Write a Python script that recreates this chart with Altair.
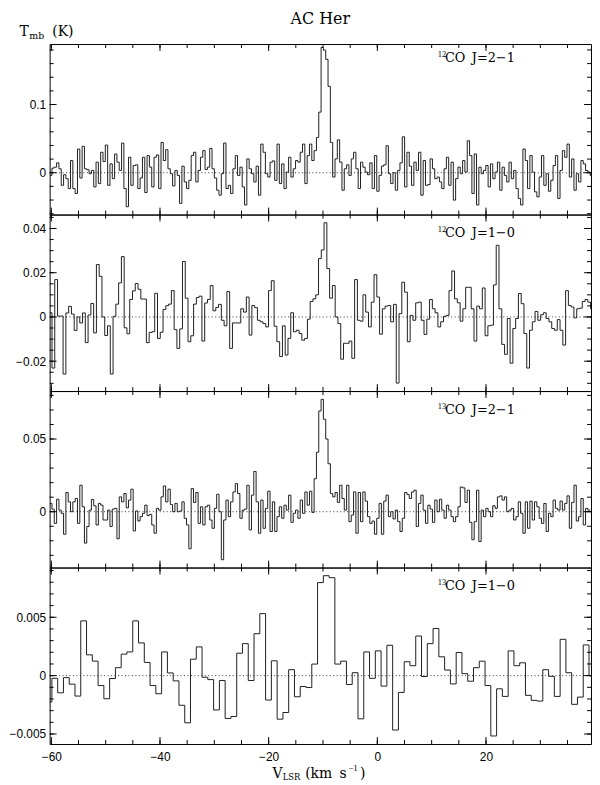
import altair as alt
import pandas as pd

# ---------------- data (antenna temperatures in mK) ----------------
# 12CO J=2-1 : channel width 0.427 km/s, first channel starts at -60.31 km/s
co12_21_a = [-3.9, 6.8, 8.2, 14.5, 5.8, -18.4, -2.9, -8.7, -23.2, 17.9, -23.2, -30.4, 34.8, -7.7, 38.6, 5.8,
             4.3, -1.4, 3.4, -20.8, 15.5, -15.9, 30.0, 16.4, 40.6, -18.4, 13.0, -8.7, 27.5, 15.5, 3.4, 43.5,
             -23.2, -49.8, 22.7, -18.4, 10.6, 11.6, -23.2, -7.7, 22.7, -29.0, 25.1, 8.2, -20.8, 22.7, 26.1,
             -23.2, 44.4, 17.9, 33.8, 5.8, -1.4, -19.3, 3.4, -3.9, -44.9, 9.7, -13.5, -23.2, -11.1, 25.1, 30.0,
             -13.5, 3.4, 22.7, 32.4, 4.8, 8.2, 35.7, 5.8, -7.7, -25.6, -32.9, -1.4, 43.5, -23.2]
co12_21_b = [-18.4, -30.4, 5.8, 25.1, -3.9, 8.2, -20.8, -47.3, 20.3, 5.8, -1.4, -13.5, 9.7, -32.9, 42.0, 30.0,
             -1.4, -6.3, 15.5, 17.4, -11.1, 42.0, -15.9, 13.0, -23.2, 1.0, 22.7, -6.3, 5.8, 17.9, 15.5, 30.0,
             42.0, -15.9, 25.1, 42.0, 17.9, 32.4, 51.7, 88.9, 183.6, 179.7, 166.2, 126.6, 44.4, -6.3, 20.3,
             48.3, 15.5, -25.6, 5.8, 11.6, -3.9, 20.3, 30.0, 5.8, -23.2, 15.5, 8.2, 1.0, -2.9, 14.5, -23.2,
             25.1, -27.1, -3.9, 9.7, 11.6, 39.6, -1.4, -15.9, 0.0, -25.6, 3.4, 14.5, 52.7, -20.8, 30.0, 9.7]
co12_21_c = [-18.4, 15.5, 3.4, 30.0, -32.9, 17.9, -18.4, -17.4, 20.3, 5.8, -8.7, -6.3, -13.5, -23.2, 5.8, 22.7,
             -18.4, 15.5, -40.1, -8.7, 8.2, -1.4, 17.9, 1.0, 46.9, 25.1, -30.4, 27.5, -47.3, 8.2, -1.4, 3.4,
             10.6, -20.8, 13.0, -8.7, 1.0, 15.5, -25.6, 8.2, -3.9, -13.5, 15.5, -8.7, 3.4, -23.2, -37.7, -47.3,
             34.8, 17.9, -23.2, 25.1, 1.0, -28.0, -35.3, -6.3, 25.1, -18.4, -1.4, -27.1, -11.1, 10.6, 25.1,
             -37.7, 3.4, 32.4, 22.7, 42.0, -6.3, 20.3, -25.6, -1.4, -13.5, 17.9, 13.0, 3.4, 1.0, -3.9, -19.3]

# 12CO J=1-0 : channel width 0.511 km/s, first channel starts at -60.39 km/s
co12_10_a = [1.9, -23.1, 16.9, 0.4, 0.4, -25.8, 1.8, 4.8, 1.3, -6.1, 0.0, -2.7, 1.8, -11.6, 0.9, 6.1, -7.2,
             23.7, 18.4, 0.0, -8.4, -4.0, -25.8, 0.3, 5.8, 15.4, 27.3, -4.9, -7.6, 7.9, 11.8, 15.1, 12.5, 8.1,
             8.1, -11.6, -7.0, -6.7, 10.7, -9.7, -6.9, 3.4, 5.1, 5.8, 11.9, -5.7, -14.2, -5.4, 25.1, 8.5,
             -11.2, -8.5, 5.8, 8.8, 9.4, -10.9, 6.3, 7.9, 14.2, 2.8, 4.3, 5.7, -1.5, -4.0, 11.5, -14.2, -2.7,
             -2.7, -2.7, 3.7, 2.2, 9.0, -8.2, 5.2, 4.2, -1.5, -2.2, -3.0, -4.5, 11.9, 16.4, -4.2, -11.2,
             -17.9, -4.0, -17.2, -9.7, 1.9, -6.7, -6.0, -7.5, -10.5, -9.7, -1.0, 7.0]
co12_10_b = [8.2, 10.0, 26.4, 30.3, 42.6, 21.9, 8.5, 14.2, 0.0, -3.0, -19.1, -11.9, -11.9, -10.9, -18.7, 16.9,
             -1.5, -1.9, 10.0, 2.2, -4.5, 6.7, 19.1, 9.0, -7.8, 3.7, 4.9, 5.2, -2.2, 5.7, -29.9, 1.5, 15.7,
             11.2, -11.2, 0.7, -1.5, 6.4, 6.7, -1.5, -7.9, -1.0, 7.9, 3.7, 1.9, -4.5, -2.2, 0.3, 0.7, 11.9,
             20.8, 8.2, 6.4, -1.9, 3.7, 13.4, 13.4, 3.7, -10.9, 4.9, 3.7, 13.1, -8.5, -4.0, -3.7, 14.5, 32.4,
             3.7, -12.4, -16.9, -0.7, -20.9, -5.2, -0.7, 10.6, 6.0, -7.5, -23.1, -6.0, -2.2, 2.5, -1.5, 1.0,
             1.9, -0.7, -2.2, -5.2, -6.0, -1.2, -6.0, -12.7, 11.9, 5.2, 4.5, -0.4, 3.7, 4.0, 7.0, 7.9, 6.7,
             3.7, 1.9, -8.2]

# 13CO J=2-1 : channel width 0.427 km/s, first channel starts at -60.31 km/s
co13_21_a = [5.7, 1.8, -8.0, 8.6, 1.1, -1.1, -15.5, 13.2, 6.8, 0.0, 6.8, 9.1, -8.0, 18.2, 3.4, -21.6, -10.2,
             1.1, 8.4, 4.1, -9.1, 5.7, 4.5, -5.7, -5.7, 1.1, -10.2, 1.8, 2.3, -18.6, 10.2, 6.8, 12.5, 2.7,
             8.0, 15.5, -13.2, 0.5, -6.4, -3.4, -1.1, 4.5, -2.7, -1.8, -9.1, -14.8, 2.3, 1.1, 10.2, 17.7, 6.8,
             15.5, 5.0, 0.0, 5.7, 0.0, 0.5, 6.8, -4.5, -9.1, -25.5, 15.9, 6.4, 13.2, -8.0, 3.4, -9.1, 3.4,
             4.5, -5.7, -11.4, 2.3, 12.0, 0.0, -33.0, -5.7, 8.0]
co13_21_b = [-3.4, 6.8, 13.6, 19.3, 12.5, -4.5, 1.1, 1.8, 18.2, -12.5, 11.4, 27.7, 6.8, -14.8, 8.0, -11.4, 2.3,
             14.1, -13.6, 6.8, -13.6, -3.4, 3.4, -4.5, 4.5, 1.1, 11.4, -7.3, -1.1, 1.1, -4.5, 8.0, -1.1, 13.6,
             4.5, 14.1, -0.5, 22.7, 40.9, 69.3, 77.3, 63.6, 50.0, 33.0, 12.5, 10.2, 13.2, 6.4, 18.2, 9.1, 1.1,
             18.2, -6.8, -2.3, 13.6, -14.8, 13.2, -6.8, 13.6, 7.3, -3.4, -8.0, -6.4, -15.5, -4.5, 5.7, -15.5,
             7.3, 11.4, -3.4, 0.0, -5.0, 1.1, -6.8, -13.6, -4.5, 13.2, 11.8]
co13_21_c = [9.1, 13.6, 14.8, -10.2, 5.7, 11.4, 1.1, -8.0, 4.5, 1.8, -7.3, 8.0, 0.0, 8.6, 1.1, -4.5, 4.5, 1.1,
             -3.4, -6.8, -3.4, 3.4, 17.0, 16.4, 6.4, 14.8, -7.3, -19.3, -6.8, 14.8, -20.5, 1.1, -3.4, 2.3, 0.0,
             -3.4, 4.1, 2.3, 10.2, 10.9, 8.0, 10.2, 0.0, 1.1, 2.3, -5.7, -3.4, 6.8, -1.1, -14.8, 6.8, -11.4,
             7.3, -5.7, 6.8, 3.4, -4.5, -8.0, 5.7, -13.6, -1.1, -3.4, 8.0, 2.3, 1.1, 7.3, 1.1, 5.7, 10.9,
             -11.4, 6.4, 18.2, -6.4, -3.4, 9.1, -9.1, 2.3, 1.1]

# 13CO J=1-0 : channel width 1.063 km/s, first channel starts at -60.96 km/s
co13_10_a = [-2.26, -0.23, -1.47, -0.17, -0.73, -1.75, 4.69, 1.78, 1.24, -0.85, -1.98, -0.25, 0.68, 1.84,
             2.03, 4.69, 2.80, 1.13, -0.85, -1.55, 2.03, 0.23, -0.45, -2.54, -4.04, 1.41, 2.46, -0.14, -0.34,
             -2.94, -0.42, -3.67, -3.50, 1.92, 2.74, -0.42, 3.59, 5.31, -2.09, 1.27, -3.73, -3.16, 0.51,
             -1.81, -0.93, -1.02, 0.99]
co13_10_b = [7.97, 8.56, 8.39, 0.99, 1.24, -0.76, 0.25, -3.70, 2.03, -0.23, 2.12, -0.90, 2.60, -4.66, -1.44,
             1.19, 0.85, 3.39, -0.08, 2.74, 4.04, 1.61, 0.48, -0.71, 1.98, 0.17, -0.48, 0.68, 1.24, -0.85,
             -5.17, -1.13, -1.78, 2.12, 0.85, 1.10, -1.69, -2.12, -2.18, 0.51, -0.06, -1.78, 3.11, 0.25,
             -2.46, -1.84, 2.63, 0.0]

# ---------------- axes / tick values ----------------
X_LO, X_HI = -60.31, 39.33
x_minor = list(range(-60, 40, 5))
x_major = [-60, -40, -20, 0, 20]

W = 546
TK_MIN, TK_MAJ = 4, 7


def rng(a, b, s):
    n = int(round((b - a) / s))
    return [round(a + i * s, 6) for i in range(n + 1)]


panels = [
    dict(vals=co12_21_a + co12_21_b + co12_21_c, v0=-60.31, dv=0.427, H=172,
         dom=[-0.0613, 0.1887], minor=rng(-0.06, 0.18, 0.02), major=[0, 0.1],
         sup="12", trans="J=2\u22121", lab_y=18),
    dict(vals=co12_10_a + co12_10_b, v0=-60.39, dv=0.511, H=178,
         dom=[-0.0335, 0.0463], minor=rng(-0.03, 0.045, 0.005), major=[-0.02, 0, 0.02, 0.04],
         sup="12", trans="J=1\u22120", lab_y=23),
    dict(vals=co13_21_a + co13_21_b + co13_21_c, v0=-60.31, dv=0.427, H=178,
         dom=[-0.0384, 0.083], minor=rng(-0.03, 0.08, 0.01), major=[0, 0.05],
         sup="13", trans="J=2\u22121", lab_y=23),
    dict(vals=co13_10_a + co13_10_b, v0=-60.96, dv=1.063, H=178,
         dom=[-0.00586, 0.00926], minor=rng(-0.005, 0.009, 0.001), major=[-0.005, 0, 0.005],
         sup="13", trans="J=1\u22120", lab_y=23),
]

SERIF = "DejaVu Serif"
SANS = "Liberation Sans"


def label(s, x, y, size, font=SERIF, align="left"):
    return alt.Chart(pd.DataFrame({"s": [s]})).mark_text(
        align=align, baseline="alphabetic", font=font, fontSize=size, color="black"
    ).encode(x=alt.value(x), y=alt.value(y), text="s:N")


charts = []
for k, p in enumerate(panels):
    H = p["H"]
    last = k == len(panels) - 1
    vals = p["vals"]
    v = [p["v0"] + i * p["dv"] for i in range(len(vals) + 1)]
    t = [x / 1000.0 for x in vals] + [vals[-1] / 1000.0]
    df = pd.DataFrame({"v": v, "T": t})

    xs = alt.Scale(domain=[X_LO, X_HI], nice=False, zero=False)
    ys = alt.Scale(domain=p["dom"], nice=False, zero=False)
    if last:
        xaxis = alt.Axis(values=x_major, format="d", ticks=False, tickSize=0, domain=False, grid=False,
                         labelFont=SANS, labelFontSize=12, labelPadding=8, labelColor="black", title=None)
    else:
        xaxis = None
    yaxis = alt.Axis(values=p["major"], format="~g", ticks=False, tickSize=0, domain=False, grid=False,
                     labelFont=SANS, labelFontSize=12, labelPadding=4, labelColor="black", title=None,
                     minExtent=41, maxExtent=41)

    line = alt.Chart(df).mark_line(interpolate="step-after", color="#1e1e1e", strokeWidth=1,
                                   clip=True).encode(
        x=alt.X("v:Q", scale=xs, axis=xaxis), y=alt.Y("T:Q", scale=ys, axis=yaxis))
    zero = alt.Chart(pd.DataFrame({"z": [0]})).mark_rule(
        color="black", strokeWidth=0.8, strokeDash=[1, 2.5]).encode(
        y=alt.Y("z:Q", scale=ys, axis=yaxis))

    layers = [zero, line]
    xmin_df = pd.DataFrame({"v": x_minor})
    xmaj_df = pd.DataFrame({"v": x_major})
    for d, L in ((xmin_df, TK_MIN), (xmaj_df, TK_MAJ)):
        layers.append(alt.Chart(d).mark_rule(color="black", strokeWidth=1).encode(
            x=alt.X("v:Q", scale=xs, axis=xaxis), y=alt.value(0), y2=alt.value(L)))
        layers.append(alt.Chart(d).mark_rule(color="black", strokeWidth=1).encode(
            x=alt.X("v:Q", scale=xs, axis=xaxis), y=alt.value(H), y2=alt.value(H - L)))
    ymin_df = pd.DataFrame({"T": p["minor"]})
    ymaj_df = pd.DataFrame({"T": p["major"]})
    for d, L in ((ymin_df, TK_MIN), (ymaj_df, TK_MAJ)):
        layers.append(alt.Chart(d).mark_rule(color="black", strokeWidth=1).encode(
            y=alt.Y("T:Q", scale=ys, axis=yaxis), x=alt.value(0), x2=alt.value(L)))
        layers.append(alt.Chart(d).mark_rule(color="black", strokeWidth=1).encode(
            y=alt.Y("T:Q", scale=ys, axis=yaxis), x=alt.value(W), x2=alt.value(W - L)))

    # panel label
    ly = p["lab_y"]
    layers.append(label(p["sup"], 391.5, ly - 5, 8.5, font="Liberation Serif"))
    layers.append(label("CO", 398.7, ly, 13))
    layers.append(label(p["trans"], 425.7, ly, 13))

    if k == 0:
        layers.append(label("AC Her", W / 2, -20.5, 16, align="center"))
        layers.append(label("T", -30.3, -8, 14))
        layers.append(label("mb", -20.6, -4.8, 9.5))
        layers.append(label("(K)", 2.7, -8, 14))
    if last:
        by = H + 34
        layers.append(label("V", 224.7, by, 14))
        layers.append(label("LSR", 235.1, by + 2.5, 8.5))
        layers.append(label("(km", 257.7, by, 14))
        layers.append(label("s", 292.3, by, 14))
        layers.append(label("\u22121", 301.2, by - 6.5, 9, font="Liberation Serif"))
        layers.append(label(")", 313.0, by, 14))

    charts.append(alt.layer(*layers).properties(width=W, height=H))

chart = alt.VConcatChart(vconcat=charts, spacing=0, bounds="flush",
                         padding={"left": 0, "right": 0, "top": -1, "bottom": 0}).configure_view(
    stroke="black", strokeWidth=1).configure_concat(spacing=0)

chart.save("out.html", embed_options={"renderer": "svg", "actions": False})
